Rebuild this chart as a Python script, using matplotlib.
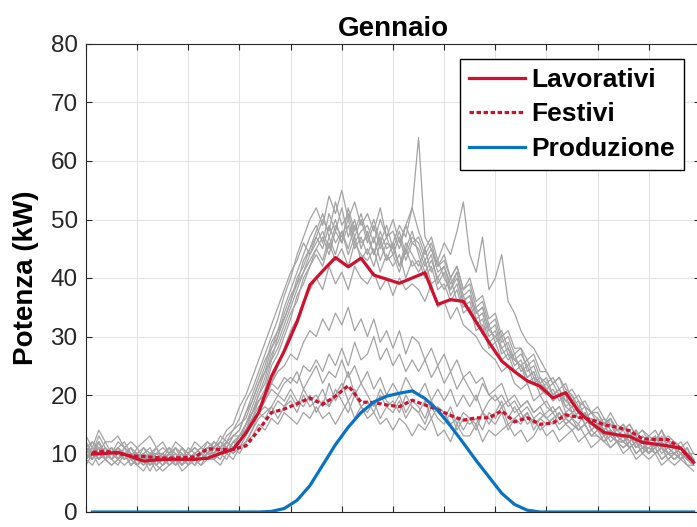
import numpy as np
import matplotlib
matplotlib.use("Agg")
import matplotlib.pyplot as plt

plt.rcParams["font.family"] = ["Liberation Sans", "DejaVu Sans"]

# ── Asse temporale ───────────────────────────────────────────────────────────
ore_giorni = np.arange(96) * 0.25          # profili giornalieri, passo 15 min
ore_medie = 0.25 + np.arange(48) * 0.5     # profili medi, passo 30 min

# ── Profili medi (kW) ────────────────────────────────────────────────────────
lavorativi = [9.9, 10.0, 10.2, 9.5, 8.7, 8.9, 9.0, 9.0, 9.0, 9.2, 10.0, 10.7,
              13.5, 17.0, 23.2, 27.5, 32.5, 38.8, 41.2, 43.5, 41.9, 43.4, 40.5, 39.8,
              39.1, 40.0, 40.9, 35.5, 36.3, 36.0, 32.5, 29.0, 25.8, 24.0, 22.4, 21.5,
              19.5, 20.4, 17.2, 15.2, 13.6, 13.2, 12.9, 11.9, 11.6, 11.3, 10.9, 8.5]
festivi = [10.2, 10.4, 10.0, 9.6, 9.5, 9.3, 9.2, 9.3, 9.4, 10.8, 10.7, 10.7,
           11.3, 14.0, 17.0, 17.6, 18.5, 19.5, 18.4, 19.8, 21.6, 18.8, 18.7, 18.3,
           18.0, 19.1, 18.3, 17.5, 16.5, 15.7, 16.1, 16.1, 17.3, 15.4, 16.1, 15.0,
           15.2, 16.6, 16.2, 15.8, 14.9, 14.5, 13.9, 12.5, 12.4, 12.4, 10.8, 8.5]
produzione = [0, 0, 0, 0, 0, 0, 0, 0, 0, 0, 0, 0,
              0, 0, 0.1, 0.6, 2.0, 4.5, 8.0, 11.5, 14.5, 17.0, 18.8, 19.8,
              20.3, 20.7, 19.4, 17.4, 14.7, 11.8, 8.8, 6.0, 3.2, 1.3, 0.3, 0,
              0, 0, 0, 0, 0, 0, 0, 0, 0, 0, 0, 0]

# ── Profili giornalieri (kW) ─────────────────────────────────────────────────
giorni = [
    [11,9,12,10, 9,11,10,8, 9,10,8,9, 10,8,9,11, 9,8,10,9, 10,12,11,13, 14,17,19,22, 25,29,31,35,
     38,41,44,47, 49,46,51,48, 52,47,50,45, 48,44,47,43, 46,42,45,48, 44,41,43,40, 42,38,40,36, 37,33,34,30,
     31,27,28,25, 26,23,24,21, 22,20,21,18, 19,17,16,15, 16,13,14,12, 13,11,12,10, 11,12,10,11, 10,9,11,8],
    [9,11,10,12, 10,9,11,10, 8,10,9,11, 9,10,8,9, 10,9,8,10, 9,11,10,12, 12,15,18,21, 24,26,30,33,
     36,40,42,45, 47,50,48,53, 49,51,47,50, 46,49,45,47, 44,47,43,46, 45,42,44,39, 41,37,39,35, 36,32,33,29,
     30,28,26,27, 24,25,22,23, 21,19,20,17, 18,16,17,14, 15,14,12,13, 12,13,11,12, 10,11,12,10, 11,9,10,9],
    [10,12,11,9, 11,10,9,10, 10,9,10,8, 9,11,9,10, 8,10,9,9, 11,10,12,11, 13,14,17,20, 22,26,28,31,
     34,36,40,42, 44,42,46,43, 45,42,46,44, 43,45,41,44, 42,44,40,43, 41,43,39,40, 38,40,36,37, 34,35,31,32,
     29,30,27,26, 25,23,24,21, 20,21,19,20, 17,18,15,16, 14,15,13,12, 13,11,12,10, 12,10,11,9, 10,11,9,8],
    [12,10,13,11, 10,12,11,9, 11,9,10,10, 10,9,11,9, 11,10,9,10, 12,11,13,14, 16,19,21,24, 27,30,33,37,
     40,44,47,50, 52,49,54,51, 55,50,53,49, 51,48,52,47, 50,46,49,52, 48,45,47,43, 46,44,48,53, 44,41,47,38,
     40,44,36,34, 31,29,28,26, 24,22,23,20, 21,19,18,17, 18,16,15,14, 15,13,14,12, 13,14,12,13, 12,11,12,10],
    [8,10,9,11, 9,8,10,9, 8,9,7,9, 8,9,10,8, 9,8,9,10, 9,10,11,10, 12,14,16,19, 21,25,27,30,
     33,37,39,42, 45,43,47,44, 48,45,49,46, 47,44,48,45, 46,49,47,52, 64,47,45,42, 43,40,42,38, 39,35,36,32,
     33,29,30,27, 28,24,25,22, 23,20,21,19, 20,17,18,15, 16,14,15,13, 12,14,11,12, 10,12,11,10, 9,10,9,8],
    [11,10,12,10, 10,11,9,10, 9,10,9,8, 10,9,8,10, 9,10,11,10, 11,12,14,15, 18,20,23,26, 29,32,35,38,
     41,43,46,44, 47,45,49,46, 48,44,47,43, 45,42,46,43, 44,41,45,42, 43,40,42,38, 39,36,38,34, 35,31,32,28,
     29,26,27,24, 25,22,23,20, 21,19,20,18, 17,16,17,15, 14,13,14,12, 12,11,12,11, 11,10,11,10, 10,9,10,8],
    [13,11,14,12, 12,13,11,12, 11,12,13,11, 12,10,12,11, 10,12,11,12, 11,13,12,14, 15,16,19,22, 24,28,30,34,
     37,39,43,45, 48,51,47,50, 46,52,48,51, 47,50,46,49, 45,48,44,47, 46,43,45,41, 42,39,41,37, 38,34,35,31,
     32,28,29,26, 27,25,26,23, 22,23,21,22, 19,20,18,17, 17,15,16,14, 15,13,14,12, 13,12,14,11, 12,11,10,9],
    [9,8,10,9, 8,9,8,9, 8,7,9,8, 7,8,9,7, 8,9,8,9, 9,8,10,9, 11,12,14,17, 19,22,25,28,
     31,33,36,38, 40,38,42,39, 41,38,42,40, 39,41,38,40, 37,40,38,39, 38,36,39,35, 36,33,35,32, 31,30,28,27,
     26,24,25,22, 21,22,19,20, 18,17,18,16, 15,14,15,13, 13,12,11,12, 10,11,9,10, 9,10,8,9, 8,9,8,7],
    [10,11,9,10, 11,9,10,11, 9,10,11,9, 10,11,10,9, 10,11,10,11, 12,11,12,13, 14,17,20,23, 26,28,31,33,
     36,39,41,44, 46,48,45,49, 47,50,46,48, 49,46,50,47, 48,45,49,46, 47,44,46,42, 44,40,42,38, 40,36,37,33,
     34,30,31,28, 28,26,27,24, 24,22,23,21, 20,18,19,17, 17,15,16,14, 14,15,13,14, 12,13,11,12, 11,12,10,9],
    [9,10,11,9, 10,9,10,8, 9,8,10,9, 8,10,9,10, 9,10,9,11, 10,11,10,12, 13,15,17,20, 23,27,29,32,
     35,38,41,43, 45,47,44,48, 46,49,45,47, 44,47,43,46, 45,42,46,44, 42,45,41,43, 40,38,41,36, 37,34,35,31,
     30,31,28,26, 25,26,23,22, 21,22,20,19, 18,19,16,17, 15,16,14,13, 13,14,12,13, 12,11,13,11, 10,11,9,9],
    [10,9,11,10, 9,10,9,10, 8,9,10,9, 9,8,9,10, 9,10,9,10, 10,11,10,12, 13,15,17,19, 20,22,24,25,
     27,26,29,31, 30,33,31,34, 32,35,31,33, 30,33,29,31, 28,31,27,30, 29,26,28,25, 27,24,26,23, 24,22,23,20,
     21,22,19,20, 18,19,17,18, 16,17,15,16, 15,14,15,13, 14,12,13,12, 11,12,10,11, 10,11,9,10, 9,10,9,8],
    [11,10,12,10, 10,11,10,9, 10,9,10,11, 9,10,11,9, 10,9,10,11, 11,10,12,11, 12,14,16,18, 19,21,20,22,
     23,22,25,24, 26,24,27,25, 28,25,29,26, 27,30,26,28, 25,27,24,26, 24,26,23,25, 22,24,21,23, 21,19,22,20,
     19,20,18,19, 17,18,16,17, 16,15,17,15, 14,15,13,14, 13,12,14,12, 12,11,12,10, 11,10,11,9, 10,9,10,9],
    [10,11,9,10, 11,9,10,9, 9,10,8,9, 10,9,10,8, 9,10,9,10, 10,9,11,10, 11,12,14,16, 17,18,16,18,
     19,17,20,18, 19,21,18,20, 22,19,21,18, 19,17,20,18, 17,19,16,18, 17,15,18,16, 15,17,14,16, 15,16,14,17,
     16,18,15,16, 15,17,14,16, 15,16,14,15, 16,14,15,13, 14,15,13,14, 13,12,14,12, 12,13,11,12, 11,10,11,9],
    [11,12,10,11, 10,11,12,10, 10,11,9,10, 11,10,9,11, 10,11,10,12, 11,12,11,13, 13,15,17,19, 20,22,21,23,
     22,24,21,23, 25,22,24,23, 26,23,25,22, 24,21,23,20, 22,20,23,21, 20,22,19,21, 19,21,18,20, 18,20,17,19,
     20,18,19,17, 18,19,17,18, 19,17,18,16, 17,18,16,17, 16,15,17,15, 14,15,13,14, 13,12,14,12, 12,11,10,10],
    [9,10,8,9, 8,9,10,8, 9,8,9,7, 8,9,8,9, 8,9,10,9, 9,10,9,11, 10,12,13,15, 14,16,15,17,
     16,15,17,16, 18,16,17,15, 17,19,16,18, 16,17,15,16, 14,16,15,13, 15,14,16,13, 14,12,15,13, 13,15,12,14,
     13,14,15,13, 14,12,13,15, 13,14,12,13, 14,12,13,11, 12,13,11,12, 11,12,10,11, 10,11,9,10, 9,10,8,8],
    [10,9,11,10, 9,10,9,11, 10,9,8,10, 9,10,9,8, 10,9,10,11, 11,10,12,11, 12,14,16,17, 18,17,19,18,
     20,18,21,19, 20,18,22,19, 21,24,20,22, 20,18,21,19, 18,20,17,19, 18,16,19,17, 16,18,15,17, 16,14,17,15,
     17,19,16,18, 16,17,15,16, 17,18,16,17, 16,15,17,14, 15,13,14,13, 12,13,11,12, 12,11,12,10, 10,11,9,9],
    [11,10,12,9, 10,9,11,10, 9,11,10,9, 10,9,11,10, 9,10,11,10, 10,11,10,12, 11,13,15,17, 16,18,20,19,
     21,19,18,20, 17,19,18,21, 19,17,20,18, 17,19,16,18, 19,17,20,18, 17,19,16,18, 17,15,16,14, 16,15,17,16,
     15,17,14,16, 17,15,16,14, 15,16,17,15, 16,17,15,16, 15,14,16,13, 14,12,13,11, 12,11,12,11, 11,10,9,9],
]

COL_ROSSO = "#d0102f"
COL_BLU = "#0a72c2"
COL_GRIGIO = "#a3a3a3"

fig = plt.figure(figsize=(6.97, 5.27), dpi=100)
ax = fig.add_axes([86 / 697, 15 / 527, 614 / 697, 468 / 527])

for g in giorni:
    ax.plot(ore_giorni, g, color=COL_GRIGIO, lw=0.9, zorder=2)

ax.plot(ore_medie, lavorativi, color=COL_ROSSO, lw=2.3, label="Lavorativi", zorder=4)
ax.plot(ore_medie, festivi, color=COL_ROSSO, lw=2.3, ls=(0, (1.4, 0.8)),
        label="Festivi", zorder=4)
ax.plot(ore_medie, produzione, color=COL_BLU, lw=2.3, label="Produzione", zorder=5)

ax.set_xlim(0, 24)
ax.set_ylim(0, 80)
ax.set_xticks(np.arange(0, 25, 2))
ax.set_yticks(np.arange(0, 81, 10))
ax.tick_params(direction="in", length=4, width=0.8, top=True, right=True,
               labelbottom=False, labelsize=17.5, colors="#262626", pad=6)
ax.grid(True, color="#e2e2e2", lw=0.7, zorder=0)
ax.set_axisbelow(True)
for s in ax.spines.values():
    s.set_color("#262626")
    s.set_linewidth(0.8)

ax.set_title("Gennaio", fontsize=20, fontweight="bold", pad=6)
ax.set_ylabel("Potenza (kW)", fontsize=20, fontweight="bold", labelpad=8)

leg = ax.legend(loc="upper right", bbox_to_anchor=(0.974, 0.969), borderaxespad=0,
                prop={"size": 19, "weight": "bold"}, handlelength=2.1,
                handletextpad=0.25, borderpad=0.35, labelspacing=0.4,
                fancybox=False, framealpha=1, edgecolor="black")
leg.get_frame().set_linewidth(1.0)

fig.savefig("out.png", dpi=100)
